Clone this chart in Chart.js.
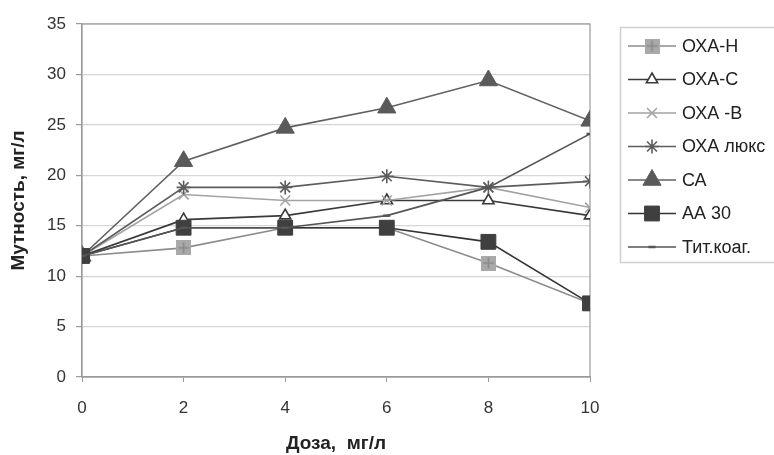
<!DOCTYPE html>
<html>
<head>
<meta charset="utf-8">
<script src="https://cdn.jsdelivr.net/npm/chart.js@4/dist/chart.umd.min.js"></script>
<style>
  html, body { margin: 0; padding: 0; background: #fff; }
  #wrap { width: 774px; height: 455px; }
</style>
</head>
<body>
<div id="wrap"><canvas id="myChart" width="774" height="455"></canvas></div>
<script>
// доза коагулянта, мг/л
const doses = [0, 2, 4, 6, 8, 10];
const yTicks = [0, 5, 10, 15, 20, 25, 30, 35];

// мутность, мг/л
const oxaN    = [12, 12.8, 14.8, 14.8, 11.3, 7.3];
const oxaC    = [12, 15.6, 16.0, 17.5, 17.5, 16.0];
const oxaB    = [12, 18.1, 17.5, 17.5, 18.8, 16.8];
const oxaLux  = [12, 18.8, 18.8, 19.9, 18.8, 19.4];
const ca      = [12, 21.4, 24.7, 26.7, 29.4, 25.4];
const aa30    = [12, 14.8, 14.8, 14.8, 13.4, 7.3];
const titKoag = [12, 14.8, 14.8, 16.0, 18.8, 24.1];

const seriesNames = ['ОХА-Н', 'ОХА-С', 'ОХА -В', 'ОХА люкс', 'СА', 'АА 30', 'Тит.коаг.'];
const seriesData = [oxaN, oxaC, oxaB, oxaLux, ca, aa30, titKoag];

// square with a cross for ОХА-Н
function plusSquare() {
  const c = document.createElement('canvas');
  c.width = 15; c.height = 15;
  const g = c.getContext('2d');
  g.fillStyle = '#a9a9a9';
  g.fillRect(0, 0, 15, 15);
  g.strokeStyle = '#8a8a8a';
  g.lineWidth = 1.6;
  g.beginPath();
  g.moveTo(7.5, 2); g.lineTo(7.5, 13);
  g.moveTo(2, 7.5); g.lineTo(13, 7.5);
  g.stroke();
  return c;
}

const styles = [
  { line: '#8c8c8c', fill: '#a9a9a9', point: plusSquare(), r: 8, bw: 1 },
  { line: '#3a3a3a', fill: '#ffffff', point: 'triangle', r: 6.5, bw: 1.6 },
  { line: '#a3a3a3', fill: '#a3a3a3', point: 'crossRot', r: 7, bw: 1.6 },
  { line: '#5c5c5c', fill: '#5c5c5c', point: 'star', r: 7, bw: 1.6 },
  { line: '#616161', fill: '#5a5a5a', point: 'triangle', r: 10.5, bw: 1 },
  { line: '#333333', fill: '#3f3f3f', point: 'rect', r: 10.5, bw: 1 },
  { line: '#555555', fill: '#555555', point: 'line', r: 3.5, bw: 2.5 }
];

const datasets = seriesNames.map(function (name, i) {
  const s = styles[i];
  return {
    label: name,
    data: seriesData[i].map(function (v, k) { return { x: doses[k], y: v }; }),
    borderColor: s.line,
    borderWidth: 1.6,
    pointStyle: s.point,
    pointRadius: s.r,
    pointHoverRadius: s.r,
    pointBackgroundColor: s.fill,
    pointBorderColor: i == 1 ? '#3a3a3a' : (i == 6 ? '#555555' : s.fill),
    pointBorderWidth: s.bw,
    tension: 0,
    fill: false,
    order: seriesNames.length - i
  };
});

// full frame around the plot
const frame = {
  id: 'frame',
  beforeDatasetsDraw(chart) {
    const a = chart.chartArea, ctx = chart.ctx;
    ctx.save();
    ctx.strokeStyle = '#9a9a9a';
    ctx.lineWidth = 1.2;
    ctx.strokeRect(a.left, a.top, a.right - a.left, a.bottom - a.top);
    ctx.restore();
  }
};

// legend with line + marker samples
const sideLegend = {
  id: 'sideLegend',
  afterDraw(chart) {
    const ctx = chart.ctx;
    ctx.save();
    ctx.strokeStyle = '#cfcfcf';
    ctx.lineWidth = 1.5;
    ctx.strokeRect(620.5, 27.5, 170, 235);
    ctx.font = '18px "Liberation Sans", Arial, sans-serif';
    ctx.textBaseline = 'middle';
    ctx.fillStyle = '#222';
    for (let i = 0; i < seriesNames.length; i++) {
      const y = 46 + i * 33.5;
      const s = styles[i];
      const ds = chart.data.datasets[i];
      ctx.strokeStyle = s.line;
      ctx.lineWidth = 1.6;
      ctx.beginPath();
      ctx.moveTo(628, y); ctx.lineTo(676, y);
      ctx.stroke();
      ctx.fillStyle = ds.pointBackgroundColor;
      ctx.strokeStyle = ds.pointBorderColor;
      ctx.lineWidth = ds.pointBorderWidth;
      Chart.helpers.drawPoint(ctx, { pointStyle: s.point, radius: s.r, rotation: 0, borderWidth: s.bw }, 652, y);
      ctx.fillStyle = '#222';
      ctx.fillText(seriesNames[i], 682, y + 1);
    }
    ctx.restore();
  }
};

const data = { datasets };

const config = {
  type: 'line',
  data,
  options: {
    responsive: false,
    animation: false,
    layout: { padding: { left: 0, right: 184, top: 24, bottom: 0 } },
    plugins: { legend: { display: false }, tooltip: { enabled: false } },
    scales: {
      x: {
        type: 'linear',
        min: 0,
        max: 10,
        afterBuildTicks: function (scale) { scale.ticks = doses.map(function (v) { return { value: v }; }); },
        afterFit: function (scale) { scale.height = 78; },
        grid: { drawOnChartArea: false, drawTicks: true, tickLength: 5, tickColor: '#9a9a9a' },
        border: { color: '#9a9a9a', width: 1.2 },
        ticks: { color: '#333', padding: 16, font: { family: '"Liberation Sans", Arial', size: 17 } },
        title: {
          display: true,
          text: 'Доза,  мг/л',
          color: '#222',
          padding: { top: 1, bottom: 0 },
          font: { family: '"Liberation Sans", Arial', size: 19, weight: 'bold' }
        }
      },
      y: {
        min: 0,
        max: 35,
        afterBuildTicks: function (scale) { scale.ticks = yTicks.map(function (v) { return { value: v }; }); },
        afterFit: function (scale) { scale.width = 82; },
        grid: { color: '#d6d6d6', lineWidth: 1.2, tickLength: 6, tickColor: '#9a9a9a' },
        border: { color: '#9a9a9a', width: 1.2 },
        ticks: { color: '#333', padding: 10, font: { family: '"Liberation Sans", Arial', size: 17 } },
        title: {
          display: true,
          text: 'Мутность, мг/л',
          color: '#222',
          padding: { top: 7, bottom: 0 },
          font: { family: '"Liberation Sans", Arial', size: 19, weight: 'bold' }
        }
      }
    }
  },
  plugins: [frame, sideLegend]
};

const myChart = new Chart(document.getElementById('myChart'), config);
</script>
</body>
</html>
